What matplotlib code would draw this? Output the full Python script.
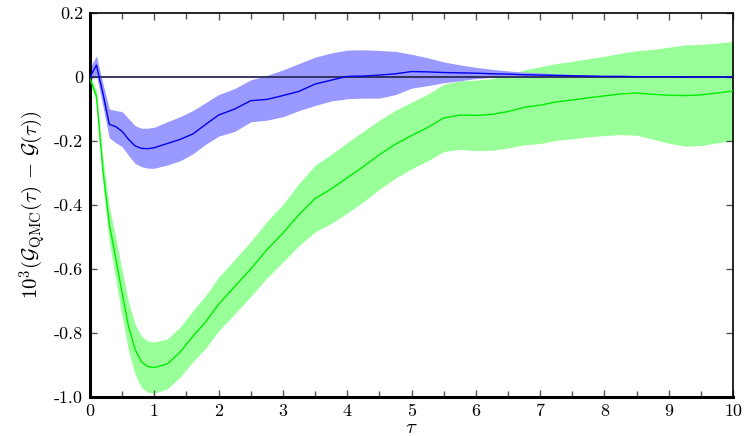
import matplotlib
matplotlib.use("Agg")
import matplotlib.pyplot as plt
import numpy as np

plt.rcParams["font.family"] = ["cmr10", "DejaVu Serif"]
plt.rcParams["mathtext.fontset"] = "cm"
plt.rcParams["axes.unicode_minus"] = False

# imaginary-time grid
tau = [0.0, 0.1, 0.2, 0.3, 0.4, 0.5, 0.6, 0.7, 0.8, 0.9, 1.0, 1.2, 1.4, 1.6, 1.8,
       2.0, 2.25, 2.5, 2.75, 3.0, 3.25, 3.5, 3.75, 4.0, 4.25, 4.5, 4.75, 5.0,
       5.25, 5.5, 5.75, 6.0, 6.25, 6.5, 6.75, 7.0, 7.25, 7.5, 7.75, 8.0, 8.25,
       8.5, 8.75, 9.0, 9.25, 9.5, 9.75, 10.0]

# blue series: mean and band bounds
blue_mean = [0.0, 0.037, -0.05, -0.148, -0.155, -0.17, -0.195, -0.215, -0.223, -0.224,
             -0.221, -0.208, -0.195, -0.178, -0.148, -0.119, -0.1, -0.074, -0.07, -0.058,
             -0.045, -0.022, -0.01, 0.002, 0.003, 0.006, 0.01, 0.017, 0.016, 0.014,
             0.013, 0.012, 0.01, 0.009, 0.007, 0.006, 0.005, 0.004, 0.003, 0.002,
             0.002, 0.001, 0.001, 0.001, 0.0, 0.0, 0.0, 0.0]
blue_hi = [0.03, 0.066, -0.02, -0.1, -0.105, -0.108, -0.13, -0.152, -0.16, -0.16,
           -0.157, -0.14, -0.124, -0.105, -0.08, -0.055, -0.036, -0.009, 0.005, 0.022,
           0.042, 0.062, 0.075, 0.084, 0.085, 0.083, 0.08, 0.071, 0.06, 0.047,
           0.038, 0.03, 0.024, 0.019, 0.015, 0.013, 0.01, 0.008, 0.006, 0.005,
           0.004, 0.003, 0.002, 0.002, 0.001, 0.001, 0.0005, 0.0]
blue_lo = [-0.01, 0.005, -0.09, -0.19, -0.205, -0.218, -0.245, -0.27, -0.28, -0.285,
           -0.285, -0.275, -0.262, -0.24, -0.21, -0.185, -0.17, -0.14, -0.135, -0.124,
           -0.105, -0.089, -0.075, -0.068, -0.066, -0.066, -0.055, -0.035, -0.027, -0.018,
           -0.012, -0.005, -0.001, 0.001, 0.0, -0.001, -0.001, 0.0, 0.0, 0.0,
           0.0, 0.0, 0.0, 0.0, 0.0, 0.0, 0.0, 0.0]

# green series: mean and symmetric error
green_mean = [-0.005, -0.06, -0.29, -0.46, -0.566, -0.676, -0.78, -0.85, -0.89, -0.905,
              -0.908, -0.897, -0.86, -0.81, -0.765, -0.71, -0.655, -0.6, -0.54, -0.488,
              -0.43, -0.38, -0.35, -0.315, -0.28, -0.243, -0.21, -0.183, -0.158, -0.128,
              -0.119, -0.12, -0.117, -0.108, -0.095, -0.088, -0.078, -0.072, -0.065, -0.059,
              -0.053, -0.05, -0.054, -0.057, -0.058, -0.056, -0.05, -0.044]
green_err = [0.008, 0.02, 0.04, 0.055, 0.065, 0.072, 0.076, 0.078, 0.08, 0.08,
             0.08, 0.078, 0.078, 0.08, 0.082, 0.084, 0.085, 0.086, 0.088, 0.09,
             0.097, 0.104, 0.108, 0.11, 0.11, 0.108, 0.106, 0.104, 0.104, 0.105,
             0.107, 0.11, 0.112, 0.114, 0.117, 0.12, 0.12, 0.121, 0.122, 0.124,
             0.127, 0.132, 0.14, 0.15, 0.158, 0.158, 0.156, 0.155]

x_ticks = [0, 1, 2, 3, 4, 5, 6, 7, 8, 9, 10]
y_ticks = [-1.0, -0.8, -0.6, -0.4, -0.2, 0.0, 0.2]
y_tick_labels = ["-1.0", "-0.8", "-0.6", "-0.4", "-0.2", "0", "0.2"]

t = np.array(tau)
gm = np.array(green_mean)
ge = np.array(green_err)

fig = plt.figure(figsize=(7.45, 4.36), dpi=100)
ax = fig.add_axes([0.1208, 0.0894, 0.8631, 0.8808])

ax.fill_between(t, gm - ge, gm + ge, color="#99ff99", lw=0, zorder=1)
ax.fill_between(t, blue_lo, blue_hi, color="#9999ff", lw=0, zorder=2)
ax.axhline(0.0, color="#2a2a55", lw=1.3, zorder=3)
ax.plot(t, gm, color="#00ee00", lw=1.0, zorder=4)
ax.plot(t, blue_mean, color="#0000ee", lw=1.0, zorder=5)

ax.set_xlim(0, 10)
ax.set_ylim(-1.0, 0.2)
ax.set_xticks(x_ticks)
ax.set_xticklabels([str(v) for v in x_ticks])
ax.set_xticks(np.arange(0.5, 10, 1.0), minor=True)
ax.set_yticks(y_ticks)
ax.set_yticklabels(y_tick_labels)

ax.tick_params(axis="both", which="both", direction="in", top=True, right=True,
               color="#555555", labelsize=13, pad=5)
ax.tick_params(which="major", length=5, width=1.0)
ax.tick_params(which="minor", length=4, width=1.0)

for side in ("left", "bottom"):
    ax.spines[side].set_linewidth(2.2)
for side in ("top", "right"):
    ax.spines[side].set_linewidth(1.2)

ax.set_xlabel(r"$\tau$", fontsize=15, labelpad=0)
ax.set_ylabel(r"$10^3(\mathcal{G}_{\mathrm{QMC}}(\tau)\,-\,\mathcal{G}(\tau))$",
              fontsize=15, labelpad=4)

fig.savefig("out.png", dpi=100)
